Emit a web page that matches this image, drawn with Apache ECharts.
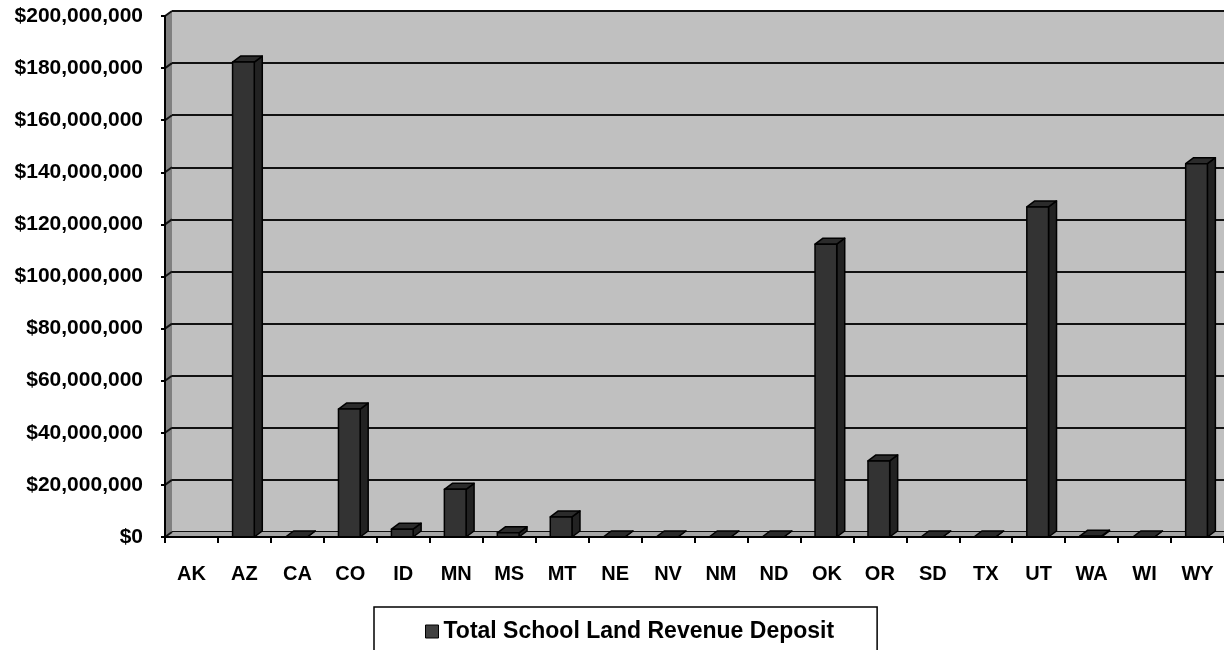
<!DOCTYPE html>
<html>
<head>
<meta charset="utf-8">
<script src="https://cdn.jsdelivr.net/npm/echarts@6/dist/echarts.min.js"></script>
<style>
html,body{margin:0;padding:0;background:#fff;}
#chart{width:1224px;height:650px;}
</style>
</head>
<body>
<div id="chart"></div>
<script>
const categories = ['AK','AZ','CA','CO','ID','MN','MS','MT','NE','NV','NM','ND','OK','OR','SD','TX','UT','WA','WI','WY'];
const deposits = [null,182300000,0,49100000,3000000,18300000,1600000,7700000,0,0,0,0,112400000,29200000,0,0,126700000,300000,0,143300000];
const yTicks = [0,20000000,40000000,60000000,80000000,100000000,120000000,140000000,160000000,180000000,200000000];
const seriesName = 'Total School Land Revenue Deposit';

const DX = 7, DY = -5;     // wall depth offset
const BDX = 8, BDY = -6;   // bar depth offset

function fmt(v){ return '$' + v.toLocaleString('en-US'); }

const chart = echarts.init(document.getElementById('chart'));
const font = 'Liberation Sans, Arial, sans-serif';

chart.setOption({
  animation: false,
  backgroundColor: '#fff',
  grid: [
    {left: 165, right: -7, top: 16, bottom: 113, containLabel: false},
    {left: 165 + DX, right: -7 - DX, top: 16 + DY, bottom: 113 - DY, show: true, backgroundColor: '#c0c0c0', borderWidth: 0, z: 0}
  ],
  xAxis: [
    {type: 'category', gridIndex: 0, data: categories, boundaryGap: true,
     axisLine: {show: true, lineStyle: {color: '#000', width: 2}},
     axisTick: {show: true, length: 6, lineStyle: {color: '#000', width: 2}, alignWithLabel: false},
     axisLabel: {fontFamily: font, fontWeight: 'bold', fontSize: 20, color: '#000', margin: 27, interval: 0},
     splitLine: {show: false}, z: 5},
    {type: 'category', gridIndex: 1, data: categories, show: false}
  ],
  yAxis: [
    {type: 'value', gridIndex: 0, min: 0, max: 200000000, interval: 20000000,
     axisLine: {show: true, lineStyle: {color: '#000', width: 2}},
     axisTick: {show: true, length: 4, lineStyle: {color: '#000', width: 2}},
     axisLabel: {fontFamily: font, fontWeight: 'bold', fontSize: 21, color: '#000', margin: 22, formatter: fmt},
     splitLine: {show: false}, z: 5},
    {type: 'value', gridIndex: 1, min: 0, max: 200000000, interval: 20000000,
     axisLine: {show: false}, axisTick: {show: false}, axisLabel: {show: false},
     splitLine: {show: true, lineStyle: {color: '#111', width: 2}}}
  ],
  legend: {
    left: 374, top: 607,
    padding: [13, 43, 20, 51],
    borderColor: '#000', borderWidth: 1.5,
    itemWidth: 13, itemHeight: 13,
    textStyle: {fontFamily: font, fontWeight: 'bold', fontSize: 23, color: '#000'},
    data: [{name: seriesName, icon: 'rect', itemStyle: {color: '#404040', borderColor: '#000', borderWidth: 1}}]
  },
  series: [
    {
      type: 'custom', name: 'walls', xAxisIndex: 0, yAxisIndex: 0, silent: true, z: 1,
      data: yTicks.map((t, i) => [i, t]),
      renderItem: function(params, api){
        const cs = params.coordSys;
        const v = api.value(1);
        const y = api.coord([0, v])[1];
        const children = [];
        if (params.dataIndex === 0) {
          const x0 = cs.x, x1 = cs.x + cs.width, yt = cs.y, yb = cs.y + cs.height;
          children.push({type: 'polygon', shape: {points: [[x0, yt],[x0+DX, yt+DY],[x0+DX, yb+DY],[x0, yb]]},
            style: {fill: '#808080', stroke: null}});
          children.push({type: 'polygon', shape: {points: [[x0, yb],[x0+DX, yb+DY],[x1+DX, yb+DY],[x1, yb]]},
            style: {fill: '#a6a6a6', stroke: null}});
        }
        children.push({type: 'line', shape: {x1: cs.x, y1: y, x2: cs.x + DX, y2: y + DY},
          style: {stroke: '#111', lineWidth: 2}});
        return {type: 'group', children: children};
      }
    },
    {
      type: 'custom', name: seriesName, xAxisIndex: 0, yAxisIndex: 0, z: 3,
      itemStyle: {color: '#404040'},
      data: deposits.map((d, i) => [i, d]),
      renderItem: function(params, api){
        const raw = deposits[params.dataIndex];
        if (raw === null || raw === undefined) return null;
        const idx = api.value(0);
        const top = api.coord([idx, api.value(1)]);
        const base = api.coord([idx, 0]);
        const w = api.size([1, 0])[0] * 0.41;
        const xl = top[0] - w/2 - 1, xr = top[0] + w/2 - 1;
        const yt = top[1], yb = base[1];
        const st = {stroke: '#000', lineWidth: 1.5, lineJoin: 'round'};
        return {type: 'group', children: [
          {type: 'polygon', shape: {points: [[xr, yt],[xr+BDX, yt+BDY],[xr+BDX, yb+BDY],[xr, yb]]},
           style: Object.assign({fill: '#222222'}, st)},
          {type: 'polygon', shape: {points: [[xl, yt],[xl+BDX, yt+BDY],[xr+BDX, yt+BDY],[xr, yt]]},
           style: Object.assign({fill: '#2b2b2b'}, st)},
          {type: 'rect', shape: {x: xl, y: yt, width: xr - xl, height: yb - yt},
           style: Object.assign({fill: '#333333'}, st)}
        ]};
      }
    }
  ]
});
</script>
</body>
</html>
